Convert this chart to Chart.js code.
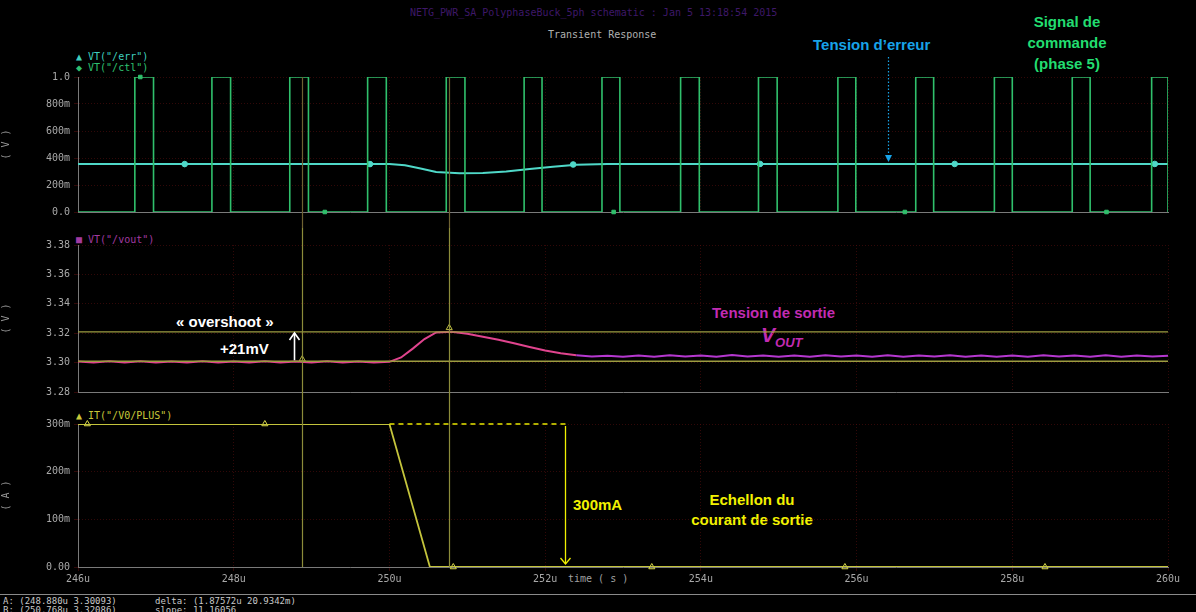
<!DOCTYPE html>
<html><head><meta charset="utf-8">
<script src="https://cdn.jsdelivr.net/npm/chart.js@4.4.1/dist/chart.umd.min.js"></script>
<style>
body{margin:0;background:#000;width:1196px;height:612px;overflow:hidden;position:relative;font-family:"Liberation Sans",Arial,sans-serif}
canvas{position:absolute;left:0}
.t{position:absolute;white-space:nowrap;font-weight:bold;font-size:15px;line-height:21px}
.s{position:absolute;white-space:nowrap;font:10px "DejaVu Sans Mono",monospace;color:#a8a8a8}
</style></head><body>

<div class="s" style="left:410px;top:7px;color:#3e1868">NETG_PWR_SA_PolyphaseBuck_5ph schematic : Jan  5 13:18:54 2015</div>
<div class="s" style="left:548px;top:29px;color:#b0b0b0">Transient Response</div>

<div class="s" style="left:76px;top:51px;color:#3fcfbf">▲  VT("/err")</div>
<div class="s" style="left:76px;top:62px;color:#2fc070">◆  VT("/ctl")</div>
<div class="s" style="left:76px;top:234px;color:#a23aa0">■  VT("/vout")</div>
<div class="s" style="left:76px;top:410px;color:#c8c83a">▲  IT("/V0/PLUS")</div>

<div class="t" style="left:813px;top:34px;color:#17a3e8">Tension d’erreur</div>
<div class="t" style="left:992px;top:11px;width:150px;text-align:center;color:#22dd70">Signal de<br>commande<br>(phase 5)</div>
<div class="t" style="left:712px;top:302px;color:#c22bb2">Tension de sortie</div>
<div class="t" style="left:761px;top:324px;color:#c22bb2;font-style:italic;font-size:21px">V<span style="font-size:13px;position:relative;top:5px">OUT</span></div>
<div class="t" style="left:176px;top:311px;color:#fff">« overshoot »</div>
<div class="t" style="left:220px;top:338px;color:#fff">+21mV</div>
<div class="t" style="left:573px;top:494px;color:#f2f200">300mA</div>
<div class="t" style="left:672px;top:490px;width:160px;text-align:center;color:#f2f200;line-height:20px">Echellon du<br>courant de sortie</div>

<div class="s" style="left:568px;top:573px;color:#a0a0a0">time ( s )</div>
<div style="position:absolute;left:0;top:594px;width:1196px;height:1px;background:#8a8a8a"></div>
<div class="s" style="left:3px;top:596px;font-size:9px;color:#c8c8c8">A: (248.880u 3.30093)</div>
<div class="s" style="left:3px;top:605px;font-size:9px;color:#c8c8c8">B: (250.768u 3.32086)</div>
<div class="s" style="left:155px;top:596px;font-size:9px;color:#c8c8c8">delta: (1.87572u 20.9342m)</div>
<div class="s" style="left:155px;top:605px;font-size:9px;color:#c8c8c8">slope: 11.16056</div>

<canvas id="c1" width="1196" height="178" style="top:50px"></canvas>
<canvas id="c2" width="1196" height="177" style="top:228px"></canvas>
<canvas id="c3" width="1196" height="190" style="top:405px"></canvas>

<script>
// time axis, in µs
const T0 = 246, T1 = 260;

// control signal (phase 5): rising / falling edges of each pulse
const ctlRise = [246.73, 247.72, 248.72, 249.72, 250.73, 251.73, 252.73, 253.74, 254.74, 255.76, 256.76, 257.77, 258.77, 259.79];
const ctlFall = [246.97, 247.96, 248.96, 249.96, 250.97, 251.96, 252.96, 253.98, 254.98, 255.99, 256.99, 258.00, 259.00, 260.00];
const ctlDotT = [246.80, 249.17, 252.88, 256.62, 259.21];
const ctlDotV = [1, 0, 0, 0, 0];

// error voltage
const errT = [246, 250.0, 250.2, 250.4, 250.6, 250.9, 251.2, 251.5, 251.8, 252.1, 252.4, 252.8, 253.5, 260];
const errV = [0.355, 0.355, 0.347, 0.322, 0.296, 0.287, 0.288, 0.300, 0.318, 0.335, 0.350, 0.356, 0.356, 0.356];
const errDotT = [247.37, 249.75, 252.36, 254.76, 257.26, 259.83];
const errDotV = [0.355, 0.355, 0.352, 0.356, 0.356, 0.356];

// output voltage
const voutT = [246.0, 246.2, 246.4, 246.6, 246.8, 247.0, 247.2, 247.4, 247.6, 247.8,
  248.0, 248.2, 248.4, 248.6, 248.8, 249.0, 249.2, 249.4, 249.6, 249.8,
  250.0, 250.15, 250.3, 250.45, 250.6, 250.8, 251.0, 251.2, 251.4, 251.6,
  251.8, 252.0, 252.2, 252.4, 252.6, 252.8, 253.0, 253.2, 253.4, 253.6,
  253.8, 254.0, 254.2, 254.4, 254.6, 254.8, 255.0, 255.2, 255.4, 255.6,
  255.8, 256.0, 256.2, 256.4, 256.6, 256.8, 257.0, 257.2, 257.4, 257.6,
  257.8, 258.0, 258.2, 258.4, 258.6, 258.8, 259.0, 259.2, 259.4, 259.6,
  259.8, 260.0];
const voutV = [3.3008, 3.3000, 3.3009, 3.3001, 3.3009, 3.3000, 3.3008, 3.3001, 3.3009, 3.3000,
  3.3008, 3.3001, 3.3009, 3.3000, 3.3008, 3.3001, 3.3009, 3.3000, 3.3008, 3.3001,
  3.3005, 3.3035, 3.3095, 3.3160, 3.3205, 3.3210, 3.3196, 3.3176, 3.3155, 3.3131,
  3.3106, 3.3082, 3.3063, 3.3050, 3.3042, 3.3046, 3.3039, 3.3049, 3.3040, 3.3050,
  3.3041, 3.3049, 3.3040, 3.3051, 3.3041, 3.3049, 3.3039, 3.3048, 3.3040, 3.3050,
  3.3041, 3.3049, 3.3040, 3.3050, 3.3039, 3.3048, 3.3041, 3.3050, 3.3040, 3.3049,
  3.3039, 3.3048, 3.3040, 3.3050, 3.3041, 3.3049, 3.3040, 3.3050, 3.3039, 3.3049,
  3.3041, 3.3046];

// cursors A / B
const cursorA = {t: 248.880, v: 3.30093};
const cursorB = {t: 250.768, v: 3.32086};

// output current step
const curT = [246, 250.0, 250.52, 260];
const curI = [0.3, 0.3, 0, 0];
const curDotT = [246.12, 248.40, 250.82, 253.37, 255.85, 258.42];
const curDotI = [0.3, 0.3, 0, 0, 0, 0];

// annotation anchors
const errArrowT = 256.4;
const stepArrowT = 252.25, stepDashEnd = 252.3;

const pts = (xs, ys) => xs.map((x, i) => ({x, y: ys[i]}));
const ctlPts = [{x: T0, y: 0}];
ctlRise.forEach((r, i) => { ctlPts.push({x: r, y: 0}, {x: r, y: 1}, {x: ctlFall[i], y: 1}, {x: ctlFall[i], y: 0}) });
ctlPts.push({x: T1, y: 0});

const tickC = '#a8a8a8', gridC = 'rgba(90,14,14,0.55)', axisC = '#7a7a7a';
const tickFont = {family: 'DejaVu Sans Mono', size: 10};

function arrow(ctx, x, y0, y1, color, opts = {}) {
  ctx.save();
  ctx.strokeStyle = color; ctx.fillStyle = color; ctx.lineWidth = opts.w || 1.3;
  if (opts.dash) ctx.setLineDash(opts.dash);
  ctx.beginPath(); ctx.moveTo(x, y0); ctx.lineTo(x, y1); ctx.stroke();
  ctx.setLineDash([]);
  const d = y1 > y0 ? -1 : 1, hw = opts.hw || 5, hl = opts.hl || 7;
  ctx.beginPath(); ctx.moveTo(x - hw, y1 + d * hl); ctx.lineTo(x, y1); ctx.lineTo(x + hw, y1 + d * hl);
  if (opts.fill) { ctx.closePath(); ctx.fill() } else ctx.stroke();
  ctx.restore();
}

function vCursors(chart, yTop, yBot, color) {
  const ctx = chart.ctx, xs = chart.scales.x;
  ctx.save(); ctx.strokeStyle = color; ctx.lineWidth = 1.2;
  [cursorA.t, cursorB.t].forEach(t => {
    const x = Math.round(xs.getPixelForValue(t)) + 0.5;
    ctx.beginPath(); ctx.moveTo(x, yTop); ctx.lineTo(x, yBot); ctx.stroke();
  });
  ctx.restore();
}

function panel(id, datasets, y, padTop, padBot, showX, plugin) {
  return new Chart(document.getElementById(id), {
    type: 'line',
    data: {datasets},
    options: {
      animation: false, responsive: false, devicePixelRatio: 1,
      parsing: false,
      elements: {line: {tension: 0, borderWidth: 1.6}, point: {radius: 0}},
      layout: {padding: {left: 0, right: 28, top: padTop, bottom: padBot}},
      plugins: {legend: {display: false}, tooltip: {enabled: false}},
      scales: {
        x: {
          type: 'linear', min: T0, max: T1,
          border: {color: axisC, dash: [1, 2]},
          grid: {color: gridC, tickLength: showX ? 4 : 0, drawTicks: showX, lineWidth: 1},
          ticks: {display: showX, stepSize: 2, color: tickC, font: tickFont, maxRotation: 0, padding: 2,
            callback: v => v + 'u'}
        },
        y: Object.assign({
          border: {color: axisC, dash: [1, 2]},
          grid: {color: gridC, tickLength: 4},
          title: {display: true, text: y.unit, color: '#9a9a9a', font: {family: 'DejaVu Sans Mono', size: 10}, padding: 0},
          ticks: {color: tickC, font: tickFont, padding: 4, stepSize: y.step, callback: y.fmt},
          afterFit: s => { s.width = 78 }
        }, {min: y.min, max: y.max})
      }
    },
    plugins: [{id: id + 'draw', afterDatasetsDraw: plugin}]
  });
}

// top panel: control signal + error voltage
panel('c1', [
  {data: ctlPts, borderColor: '#30c06c', borderWidth: 1.6},
  {data: pts(ctlDotT, ctlDotV), borderColor: '#30c06c', backgroundColor: '#30c06c', showLine: false, pointRadius: 2.5, pointStyle: 'rect', clip: 6},
  {data: pts(errT, errV), borderColor: '#4fd8c8', borderWidth: 2},
  {data: pts(errDotT, errDotV), borderColor: '#4fd8c8', backgroundColor: '#4fd8c8', showLine: false, pointRadius: 2.8, clip: 6}
], {min: 0, max: 1, step: 0.2, unit: '( V )',
  fmt: v => v === 0 ? '0.0' : v > 0.99 ? '1.0' : Math.round(v * 1000) + 'm'}, 27, 16, false,
  chart => {
    const a = chart.chartArea, ys = chart.scales.y, xs = chart.scales.x;
    vCursors(chart, a.top, chart.height, '#6f6232');
    const x = Math.round(xs.getPixelForValue(errArrowT)) + 0.5;
    arrow(chart.ctx, x, a.top - 20, ys.getPixelForValue(0.356) - 2, '#17a3e8', {dash: [1.5, 2], w: 1.2, hw: 3.5, hl: 7, fill: true});
  });

// middle panel: output voltage
panel('c2', [
  {data: [{x: T0, y: cursorB.v}, {x: T1, y: cursorB.v}], borderColor: '#9c9c40', borderWidth: 1.3},
  {data: [{x: T0, y: cursorA.v}, {x: T1, y: cursorA.v}], borderColor: '#9c9c40', borderWidth: 1.3},
  {data: pts(voutT, voutV), borderWidth: 2,
    segment: {borderColor: c => c.p0.parsed.x < 252.4 ? '#e0448e' : '#b638d0'}},
  {data: [{x: cursorA.t, y: cursorA.v + 0.0014}, {x: cursorB.t, y: cursorB.v + 0.0028}], showLine: false,
    pointRadius: 3.5, pointStyle: 'triangle', borderColor: '#b8b840', backgroundColor: 'rgba(0,0,0,0)', clip: 6}
], {min: 3.28, max: 3.38, step: 0.02, unit: '( V )', fmt: v => v.toFixed(2)}, 17, 13, false,
  chart => {
    const a = chart.chartArea, ys = chart.scales.y, xs = chart.scales.x;
    vCursors(chart, 0, chart.height, '#8c8c3a');
    const x = Math.round(xs.getPixelForValue(cursorA.t - 0.1)) + 0.5;
    arrow(chart.ctx, x, ys.getPixelForValue(cursorA.v) - 1, ys.getPixelForValue(cursorB.v) + 1, '#ffffff', {w: 1.6, hw: 5, hl: 7});
  });

// bottom panel: output current step
panel('c3', [
  {data: pts(curT, curI), borderColor: '#c4c43c', borderWidth: 1.8},
  {data: pts(curDotT, curDotI), showLine: false, pointRadius: 3.5, pointStyle: 'triangle', borderColor: '#d8d84a', backgroundColor: 'rgba(0,0,0,0)', clip: 6}
], {min: 0, max: 0.3, step: 0.1, unit: '( A )',
  fmt: v => v === 0 ? '0.00' : Math.round(v * 1000) + 'm'}, 19, 8, true,
  chart => {
    const a = chart.chartArea, ys = chart.scales.y, xs = chart.scales.x, ctx = chart.ctx;
    vCursors(chart, 0, a.bottom, '#8c8c3a');
    // dashed continuation of the 300 mA level
    ctx.save(); ctx.strokeStyle = '#e8e800'; ctx.lineWidth = 1.4; ctx.setLineDash([5, 4]);
    const yTop = ys.getPixelForValue(curI[0]);
    ctx.beginPath(); ctx.moveTo(xs.getPixelForValue(curT[1]), yTop); ctx.lineTo(xs.getPixelForValue(stepDashEnd), yTop); ctx.stroke();
    ctx.restore();
    const x = Math.round(xs.getPixelForValue(stepArrowT)) + 0.5;
    arrow(ctx, x, yTop + 2, ys.getPixelForValue(0) - 3, '#f0f000', {w: 1.3, hw: 5, hl: 6});
  });
</script>
</body></html>
